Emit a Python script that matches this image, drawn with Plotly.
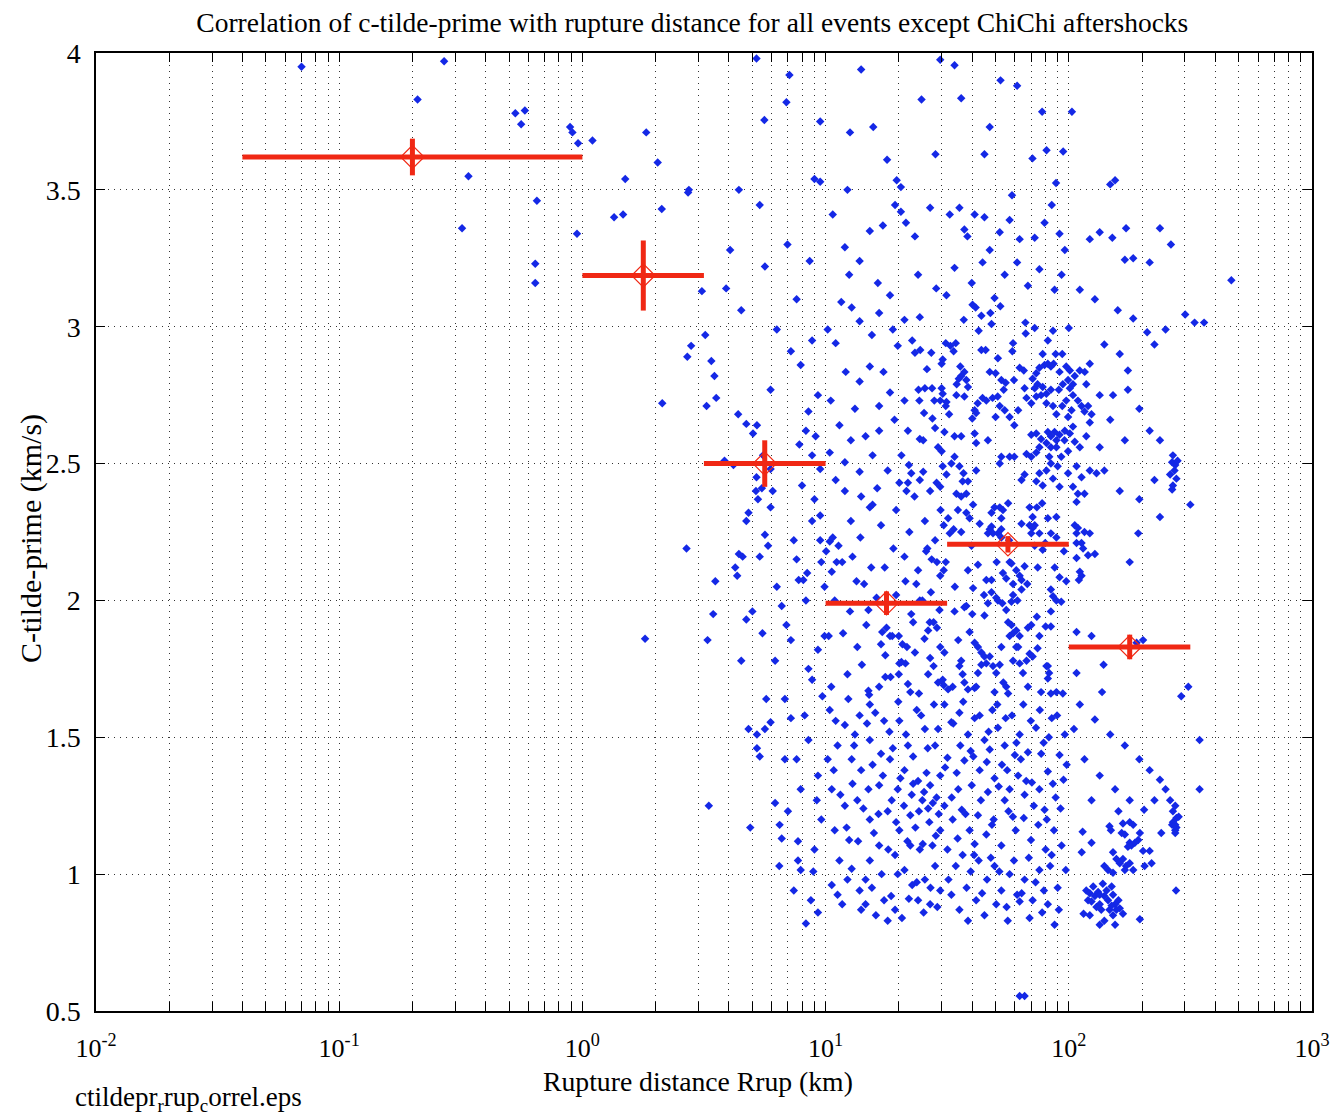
import plotly.graph_objects as go

title_text = "Correlation of c-tilde-prime with rupture distance for all events except ChiChi aftershocks"
x_label = "Rupture distance Rrup (km)"
y_label = "C-tilde-prime (km/s)"
file_note = "ctildepr<sub>r</sub>rup<sub>c</sub>orrel.eps"

x_tick_vals = [0.01, 0.1, 1, 10, 100, 1000]
x_tick_text = ["10<sup>-2</sup>", "10<sup>-1</sup>", "10<sup>0</sup>", "10<sup>1</sup>", "10<sup>2</sup>", "10<sup>3</sup>"]
x_minor_vals = [m * d for d in [0.01, 0.1, 1, 10, 100] for m in range(2, 10)]
y_tick_vals = [0.5, 1, 1.5, 2, 2.5, 3, 3.5, 4]
y_tick_text = ["0.5", "1", "1.5", "2", "2.5", "3", "3.5", "4"]

# (Rrup km, c-tilde-prime km/s)
stations_near = [(0.07,3.95),(0.27,3.97),(0.21,3.83),(0.53,3.78),(0.58,3.79),(0.56,3.74),(0.34,3.55),(0.32,3.36),(0.65,3.46),(0.64,3.23),(0.64,3.16),(0.89,3.73),(0.91,3.71),(0.96,3.67),(0.95,3.34),(1.1,3.68),(1.83,3.71),(2.04,3.6),(1.5,3.54),(2.74,3.5),(2.72,3.49),(2.12,3.43),(1.35,3.4),(1.47,3.41),(3.1,3.13),(2.7,2.89),(2.8,2.93),(2.13,2.72),(1.81,1.86),(2.68,2.19)]

stations_3_10km = [(3.2,2.97),(3.39,2.875),(3.49,2.82),(3.55,2.74),(3.24,2.71),(4.37,2.68),(4.72,2.645),(5.03,2.61),(5.22,2.64),(5.94,2.77),(3.84,2.51),(4.18,2.495),(3.45,1.95),(3.52,2.07),(3.27,1.855),(3.31,1.25),(4.33,2.09),(4.25,2.12),(4.56,2.16),(4.72,2.29),(4.82,2.32),(5.27,2.37),(5.17,2.40),(5.47,2.41),(5.94,2.34),(6.06,2.40),(5.63,2.24),(5.8,2.20),(5.36,2.16),(4.72,1.93),(4.5,1.78),(4.82,1.53),(5.22,1.51),(5.63,1.53),(5.94,1.555),(5.22,1.46),(5.36,1.43),(6.2,1.26),(6.47,1.18),(6.6,1.13),(7.7,1.05),(7.9,1.015),(6.45,1.03),(7.4,0.94),(6.6,1.98),(6.9,1.91),(7.2,1.855),(7.6,2.15),(7.75,2.075),(6.8,1.64),(7.2,1.57),(7.6,1.42),(7.9,1.31),(7.0,1.23),(5.7,1.64),(7.2,2.91),(7.9,2.86),(8.8,2.95),(9.3,2.75),(8.3,2.62),(7.8,2.57),(8.8,2.53),(9.5,2.48),(5.53,2.53),(5.94,2.48),(5.2,2.45),(5.2,3.98),(7.1,3.92),(5.6,3.755),(6.9,3.82),(9.5,3.75),(9.0,3.54),(9.5,3.53),(4.4,3.50),(5.36,3.445),(4.05,3.28),(5.63,3.22),(6.97,3.30),(8.6,3.24),(7.6,3.10),(4.5,3.06),(3.9,3.14),(6.3,2.99),(8.5,2.69),(9.0,2.37),(9.5,2.22),(8.8,2.29),(8.3,2.00),(9.3,1.82),(8.8,1.71),(8.5,1.49),(9.3,1.36),(9.6,1.20),(9.0,1.09),(8.7,0.905),(9.3,0.86),(8.3,0.82),(4.4,2.17),(5.0,1.96),(6.2,1.78),(4.9,1.17),(8.1,2.075),(8.4,2.10),(8.5,1.75),(9.5,2.31),(9.9,1.87),(9.6,2.14),
    (5.5,1.88),(6.3,2.05),(7.4,2.22),(8.2,1.58),(9.2,1.27),(6.8,1.42),(7.7,1.12),(8.9,1.01),(9.7,1.65),(9.9,2.05),(8.0,2.42),(9.1,2.60)]

stations_10_30km = [(10.4,2.215),(10.7,2.23),(11.3,2.20),(11.1,2.14),(11.7,2.14),(10.6,2.105),(10.9,2.00),(10.55,1.685),(12.3,1.73),(12.7,2.29),(13.9,2.23),(14.1,1.765),(13.4,2.07),(14.4,2.06),(15.0,1.965),(15.0,1.67),(15.1,1.655),(15.2,2.34),(15.6,2.35),(15.4,2.12),(16.6,1.685),(16.9,2.275),(17.1,1.885),(17.8,1.90),(18.4,1.87),(16.9,1.84),(17.6,1.80),(17.6,1.72),(18.5,1.72),(18.8,1.87),(19.5,2.02),(19.5,2.33),(20.0,1.87),(20.0,1.73),(20.7,1.84),(20.1,1.77),(21.3,1.77),(20.5,1.775),(21.1,2.16),(21.3,2.07),(21.8,1.695),(22.3,1.665),(21.6,1.83),(22.5,1.95),(23.3,1.81),(22.9,1.92),(24.0,2.11),(24.2,1.66),(24.4,2.00),(25.0,2.00),(25.6,2.29),(26.2,2.19),(25.9,2.18),(26.4,1.89),(26.8,1.92),(26.4,1.73),(26.9,1.79),(27.3,2.15),(27.8,1.92),(27.8,1.76),(28.7,2.14),(28.7,1.90),(29.0,1.70),(28.2,2.22),(29.4,1.965),(29.6,2.09),(29.6,1.83),(29.7,2.33),(10.05,2.18),(10.3,1.87),
    (24.4,3.035),(23.3,2.905),(24.5,2.915),(27.2,2.905),(26.1,2.845),(24.1,2.77),(25.6,2.775),(27.4,2.775),(24.3,2.73),(28.0,2.73),(25.4,2.685),(27.5,2.665),(29.6,2.73),(30.0,2.775),(30.0,2.865),(22.0,2.495),(22.5,2.465),(21.8,2.43),(21.5,2.40),(23.2,2.38),(24.4,2.44),(25.2,2.47),(26.9,2.40),(28.6,2.43),(29.6,2.415),(24.4,2.59),(25.2,2.585),(28.2,2.63),(29.0,2.56),
    (10.2,2.99),(11.0,2.94),(11.6,3.09),(12.8,3.07),(13.8,3.02),(15.5,2.97),(16.6,3.05),(18.9,2.99),(19.8,2.93),(12.1,2.835),(13.8,2.80),(15.2,2.855),(17.3,2.835),(18.4,2.76),(13.2,2.70),(11.4,2.64),(14.6,2.60),(16.6,2.62),(19.2,2.66),(10.4,2.54),(12.0,2.505),(13.8,2.47),(15.6,2.53),(18.0,2.475),(20.1,2.43),(12.0,2.40),(14.0,2.38),(16.3,2.41),(11.0,2.44),(10.5,2.73),(16.6,2.71),(12.7,2.585),(21.1,3.025),(22.7,2.95),(21.1,2.73),(21.8,2.62),(20.5,2.53),
    (10.7,3.41),(12.0,3.29),(15.2,3.35),(17.2,3.37),(19.3,3.445),(20.4,3.42),(21.4,3.38),(23.3,3.33),(26.9,3.435),(12.5,3.19),(13.8,3.24),(16.4,3.16),(18.4,3.115),(24.0,3.19),(28.5,3.14),(12.3,3.50),(12.6,3.71),(14.0,3.94),(15.7,3.73),(19.6,3.535),(20.4,3.51),(17.9,3.61),(24.8,3.83),(28.3,3.63),
    (10.4,1.60),(12.0,1.545),(11.2,1.47),(12.8,1.42),(13.8,1.58),(15.2,1.49),(15.6,1.40),(17.4,1.56),(18.9,1.46),(16.6,1.325),(19.8,1.31),(21.1,1.38),(22.9,1.33),(24.0,1.34),(25.4,1.30),(26.9,1.325),(28.6,1.28),(25.0,1.27),(26.4,1.24),(29.6,1.36),(22.3,1.215),(20.1,1.16),(18.0,1.23),(15.2,1.20),(13.5,1.27),(12.0,1.25),(10.9,1.16),(11.4,1.05),(12.3,0.98),(11.2,0.925),(11.7,0.89),(13.8,0.94),(14.6,0.89),(16.1,0.85),(17.4,0.905),(18.0,0.83),(19.3,0.87),(15.2,1.05),(16.6,1.105),(19.3,1.07),(21.1,1.015),(22.7,0.96),(24.0,0.905),(25.6,0.98),(28.2,1.03),(29.6,0.94),(26.9,0.89),(24.4,1.09),(22.3,1.105),(12.5,1.125),(14.0,1.38),(13.2,1.51),(18.4,1.42),(21.8,1.47),(25.6,1.53),(28.2,1.47),(23.7,1.60),(20.1,1.56),(15.2,1.62),(10.2,1.42),(10.6,1.31),(29.6,1.16),(27.5,1.105),(14.6,0.98),(19.8,1.00),
    (10.8,1.38),(11.5,1.29),(12.2,1.17),(12.9,1.33),(13.6,1.12),(14.3,1.24),(15.0,1.31),(15.8,1.15),(16.5,1.22),(17.2,1.36),(18.1,1.09),(18.7,1.27),(19.5,1.19),(20.3,1.35),(21.0,1.25),(21.7,1.12),(22.6,1.29),(23.4,1.17),(24.2,1.23),(25.1,1.11),(26.0,1.37),(26.7,1.19),(27.6,1.26),(28.4,1.14),(29.2,1.22),
    (11.0,1.56),(12.4,1.64),(13.1,1.47),(14.8,1.55),(16.0,1.59),(16.9,1.44),(18.3,1.52),(19.9,1.63),(21.4,1.51),(22.9,1.43),(24.7,1.58),(26.3,1.46),(27.9,1.62),(29.0,1.53),
    (10.6,0.96),(12.8,1.02),(14.0,0.87),(15.5,0.95),(17.0,1.00),(18.6,0.92),(20.6,0.84),(22.0,0.91),(23.7,0.97),(25.3,0.86),(27.0,0.95),(28.8,0.88),
    (11.8,1.88),(12.6,1.96),(13.5,1.83),(14.7,1.91),(16.2,2.01),(17.5,2.12),(19.0,2.19),(22.1,2.25),(23.6,2.06),(25.5,1.86),(27.1,2.03),(12.9,2.16)]

stations_30_100km = [(40.2,3.08),(41.4,3.07),(43.7,3.04),(47.6,3.05),(48.1,3.01),(52.3,3.075),(37.0,3.025),(42.6,2.985),(66.3,3.015),(72.4,2.995),(86.1,2.985),(100,2.995),(31.2,2.94),(32.6,2.93),(34.3,2.94),(33.6,2.91),(43.7,2.915),(45.5,2.915),(59.0,2.94),(58.6,2.91),(51.1,2.885),(66.5,2.975),(82.0,2.95),(78.1,2.90),(88.3,2.90),(94.0,2.90),(86.6,2.865),(30.3,2.88),(35.8,2.855),(37.2,2.835),(36.1,2.82),(37.9,2.805),(35.3,2.81),(47.3,2.835),(50.0,2.83),(52.8,2.805),(55.0,2.795),(54.0,2.77),(62.8,2.85),(65.3,2.84),(59.5,2.805),(71.0,2.81),(73.5,2.83),(75.7,2.85),(79.5,2.86),(82.0,2.865),(84.4,2.855),(74.4,2.79),(78.1,2.78),(72.4,2.775),(91.6,2.835),(97.6,2.855),(101,2.84),(105.8,2.82),(110.9,2.84),(116.3,2.835),(122,2.865),(118,2.79),(104,2.79),(99.3,2.805),(30.3,2.755),(31.4,2.725),(31.2,2.71),(32.2,2.68),(34.5,2.75),(37.2,2.745),(38.5,2.78),(34.6,2.79),(42.2,2.72),(44.2,2.74),(45.8,2.73),(48.6,2.74),(51.0,2.745),(41.0,2.695),(40.1,2.665),(41.6,2.685),(52.0,2.71),(54.5,2.695),(57.1,2.67),(61.9,2.695),(59.7,2.64),(50.0,2.67),(65.8,2.775),(67.0,2.74),(70.1,2.72),(73.5,2.745),(76.9,2.75),(80.9,2.755),(84.4,2.77),(91.0,2.77),(94.5,2.79),(101,2.775),(104,2.75),(80.9,2.72),(86.1,2.71),(88.9,2.68),(94.0,2.71),(97.6,2.73),(109,2.73),(112.8,2.71),(116,2.69),(120,2.71),(124,2.68),(122,2.65),(102.6,2.695),(99.3,2.67),(104,2.635),(96.3,2.62),(91.6,2.605),(87.4,2.615),(84.4,2.60),(82.0,2.615),(88.9,2.585),(80.9,2.575),(76.9,2.59),(73.5,2.61),(70.1,2.605),(75.7,2.56),(84.4,2.56),(88.9,2.56),(96.0,2.585),(101,2.61),(105.8,2.58),(118,2.60),(111,2.56),(99.3,2.545),(93.1,2.525),(83.1,2.525),(30.3,2.49),(31.4,2.46),(32.9,2.50),(35.5,2.49),(36.9,2.465),(36.6,2.435),(38.5,2.435),(37.9,2.39),(34.5,2.39),(36.1,2.38),(30.0,2.545),(33.9,2.525),(30.8,2.615),(41.6,2.575),(41.0,2.61),(36.1,2.60),(33.9,2.60),(41.6,2.475),(46.5,2.585),(52.8,2.525),(57.1,2.525),(59.7,2.525),(52.0,2.50),(63.9,2.44),(65.8,2.46),(67.0,2.535),(70.1,2.525),(73.5,2.54),(75.7,2.465),(73.5,2.435),(78.1,2.42),(80.9,2.475),(86.1,2.445),(84.4,2.50),(90.0,2.49),(91.6,2.415),(99.3,2.465),(107.6,2.49),(112.8,2.45),(104,2.415),(109,2.39),(122,2.475),(130,2.465),(134,2.56),(116,2.39),
    (30.6,2.275),(31.9,2.30),(35.0,2.33),(37.9,2.32),(39.1,2.30),(40.4,2.35),(43.0,2.28),(48.1,2.32),(49.5,2.34),(52.0,2.34),(53.6,2.33),(56.3,2.355),(52.8,2.30),(63.9,2.28),(69.0,2.34),(71.0,2.305),(73.9,2.34),(77.7,2.355),(72.4,2.275),(82.0,2.30),(88.9,2.305),(107.6,2.36),(32.4,2.245),(33.6,2.26),(36.1,2.25),(30.6,2.11),(31.2,2.14),(38.5,2.11),(40.4,2.045),(42.3,2.13),(45.8,2.075),(48.1,2.075),(46.5,2.245),(47.3,2.26),(48.1,2.27),(48.8,2.245),(51.1,2.245),(52.8,2.26),(52.8,2.23),(57.1,2.14),(58.1,2.135),(60.8,2.11),(62.8,2.09),(63.9,2.075),(65.8,2.125),(63.9,2.04),(59.0,2.06),(53.6,2.10),(55.3,2.08),(69.0,2.275),(71.0,2.265),(70.1,2.245),(75.7,2.245),(72.4,2.20),(78.1,2.185),(84.4,2.245),(88.9,2.23),(91.6,2.085),(97.6,2.07),(105.8,2.275),(107.6,2.245),(109,2.265),(116,2.25),(122,2.245),(107.6,2.21),(112.8,2.21),(114.5,2.19),(107.6,2.155),(120,2.165),(111,2.105),(112.8,2.09),(110,2.075),(128,2.17),(178,2.14),(193,2.245),(237,2.305),
    (30.8,1.81),(33.9,1.96),(35.1,1.855),(36.1,1.78),(37.2,1.975),(37.9,1.98),(39.1,1.885),(40.1,1.95),(41.0,1.845),(42.3,1.83),(43.7,1.81),(45.0,1.945),(46.5,1.99),(48.1,2.03),(50.3,2.01),(51.1,2.00),(53.3,1.99),(55.3,1.965),(58.1,1.995),(59.0,2.02),(56.3,1.92),(58.1,1.91),(59.0,1.88),(57.1,1.87),(60.8,1.89),(62.8,1.87),(61.9,1.83),(67.9,1.90),(70.1,1.91),(73.9,1.94),(75.7,1.87),(80.3,1.905),(84.4,2.04),(86.1,2.015),(88.9,2.00),(93.1,1.995),(84.4,1.96),(84.4,1.905),(80.9,1.76),(83.0,1.735),(82.0,1.715),(107.6,1.885),(124,1.87),(139,1.765),(202,1.855),(190,1.845),
    (30.3,1.71),(30.6,1.69),(31.9,1.675),(33.3,1.685),(35.5,1.76),(36.6,1.73),(37.2,1.70),(38.5,1.675),(41.0,1.68),(41.6,1.685),(42.3,1.735),(43.7,1.765),(45.0,1.795),(45.8,1.77),(47.3,1.795),(48.8,1.76),(50.3,1.735),(52.0,1.765),(52.8,1.83),(53.8,1.70),(55.3,1.685),(56.3,1.66),(49.5,1.665),(59.0,1.78),(60.8,1.83),(62.8,1.77),(64.8,1.735),(67.0,1.78),(67.9,1.685),(69.0,1.805),(71.0,1.795),(74.4,1.825),(76.9,1.665),(82.0,1.76),(84.4,1.66),(88.9,1.665),(94.5,1.66),(107.6,1.735),(137,1.665),(290,1.65),(310,1.685),
    (32.4,3.41),(35.5,3.435),(38.3,3.33),(41.0,3.41),(45.0,3.40),(47.3,3.28),(52.0,3.345),(57.1,3.39),(62.8,3.32),(72.4,3.325),(79.5,3.38),(91.6,3.34),(96.3,3.28),(33.9,3.215),(39.9,3.16),(44.2,3.235),(54.5,3.19),(61.3,3.235),(67.9,3.15),(75.7,3.21),(87.4,3.135),(93.4,3.19),(31.4,3.115),(49.5,3.105),(36.1,3.835),(47.3,3.73),(33.9,3.955),(52.4,3.90),(61.3,3.88),(77.7,3.785),(70.9,3.615),(81.0,3.645),(88.6,3.525),(37.2,3.355),(45.0,3.63),(58.4,3.48),(85.1,3.445),(94.8,3.64),(29.6,3.975),
    (30.8,1.62),(32.9,1.555),(35.5,1.59),(38.5,1.51),(41.0,1.57),(45.0,1.49),(48.5,1.60),(51.1,1.535),(54.5,1.47),(58.4,1.58),(62.8,1.51),(67.9,1.445),(73.3,1.535),(78.8,1.48),(85.1,1.57),(91.6,1.435),(96.3,1.51),(31.7,1.425),(34.6,1.37),(37.2,1.415),(39.9,1.325),(43.0,1.38),(46.5,1.30),(49.5,1.35),(53.1,1.40),(57.1,1.31),(61.9,1.36),(65.8,1.29),(70.5,1.335),(75.7,1.31),(82.0,1.375),(88.3,1.28),(95.1,1.345),(30.8,1.25),(33.3,1.20),(36.3,1.235),(39.1,1.16),(42.3,1.215),(45.8,1.145),(49.1,1.20),(52.8,1.105),(56.5,1.23),(60.5,1.16),(65.3,1.205),(69.9,1.125),(74.9,1.18),(80.3,1.09),(86.9,1.16),(93.4,1.105),(31.7,1.09),(34.3,1.03),(36.6,1.07),(39.5,1.01),(42.6,1.05),(46.1,0.98),(49.5,1.03),(52.8,0.94),(57.1,1.00),(61.3,0.925),(65.8,0.98),(71.0,0.905),(75.7,1.015),(82.0,0.89),(90.0,0.95),(97.2,1.015),(32.9,0.925),(35.5,0.87),(38.5,0.83),(41.6,0.905),(45.0,0.85),(50.3,0.89),(56.1,0.83),(62.8,0.90),(69.0,0.84),(77.7,0.86),(87.4,0.815),(62.8,0.555),(65.8,0.555),(35.1,1.31),(54.5,1.27),(79.5,1.235),(47.3,1.455),(60.0,1.435),(41.0,1.11),(83.8,1.03),
    (31.0,1.39),(33.0,1.28),(35.8,1.47),(37.6,1.22),(40.5,1.43),(43.5,1.27),(46.0,1.41),(48.3,1.18),(51.5,1.32),(55.8,1.38),(58.9,1.21),(63.5,1.42),(66.8,1.34),(71.8,1.25),(77.0,1.44),(81.2,1.20),(86.0,1.33),(92.5,1.24),(98.0,1.40),
    (32.0,0.98),(34.9,1.13),(38.0,0.95),(40.8,1.07),(44.0,0.93),(47.8,1.06),(51.8,1.01),(55.5,0.88),(59.5,1.05),(64.0,0.93),(68.5,1.06),(73.0,0.97),(79.0,0.94),(85.0,1.07),(91.0,0.87),
    (33.5,1.55),(36.8,1.63),(39.5,1.45),(43.0,1.58),(46.8,1.52),(50.8,1.62),(55.0,1.57),(60.9,1.48),(65.0,1.62),(69.8,1.56),(76.0,1.60),(82.8,1.50),(89.5,1.58),
    (34.0,2.05),(39.8,2.20),(44.8,2.02),(50.5,2.14),(56.8,2.22),(61.5,2.00),(67.5,2.06),(74.5,2.12),(80.0,2.21),(87.5,2.12),(95.5,2.18)]

stations_beyond_100km = [(103,3.785),(148,3.52),(155,3.535),(172,3.36),(122,3.32),(134,3.345),(151,3.325),(170,3.245),(184,3.25),(215,3.235),(263,3.30),(237,3.36),(301,3.045),(329,3.015),(360,3.015),(466,3.17),(111,3.135),(128,3.10),(159,3.06),(184,3.03),(210,2.98),(225,2.935),(250,2.99),(140,2.935),(162,2.90),(175,2.84),(134,2.75),(152,2.75),(175,2.77),(148,2.66),(170,2.585),(195,2.70),(215,2.62),(237,2.585),(268,2.53),(266,2.505),(272,2.475),(277,2.445),(268,2.42),(274,2.495),(266,2.405),(261,2.46),(280,2.51),(225,2.44),(195,2.37),(140,2.475),(162,2.40),(316,2.35),
    (111,1.62),(128,1.565),(148,1.51),(170,1.47),(195,1.42),(215,1.38),(237,1.345),(250,1.31),(261,1.27),(274,1.25),(268,1.23),(277,1.205),(266,1.18),(274,1.16),(283,1.21),(105,1.53),(116,1.42),(134,1.36),(155,1.31),(178,1.27),(204,1.235),(225,1.27),(160,1.23),(124,1.27),(345,1.49),(345,1.31),
    (114,1.155),(124,1.115),(147,1.175),(149,1.16),(167,1.185),(178,1.19),(184,1.18),(165,1.15),(170,1.145),(178,1.115),(175,1.10),(181,1.105),(187,1.115),(193,1.125),(196,1.15),(202,1.085),(215,1.085),(219,1.04),(205,1.03),(240,1.15),(268,1.19),(274,1.18),(277,1.17),(274,1.15),(152,1.08),(157,1.055),(162,1.04),(167,1.055),(172,1.03),(178,1.04),(170,1.015),(184,1.015),(140,1.03),(145,1.015),(152,1.005),(113,1.08),
    (118,0.94),(122,0.93),(126,0.955),(128,0.92),(120,0.905),(132,0.935),(134,0.89),(138,0.965),(136,0.87),(143,0.94),(145,0.905),(150,0.955),(152,0.925),(155,0.89),(147,0.87),(157,0.87),(162,0.875),(160,0.905),(152,0.85),(140,0.83),(115,0.855),(196,0.835),(276,0.94),(130,0.88),(124,0.90),(167,0.855),(150,0.885),(140,0.92),(134,0.925),(122,0.85),(134,0.815),(155,0.815)]

# binned means (red): bin edges, centres, mean value and its error
bin_lo = [0.04, 1.0, 3.16, 10.0, 31.6, 100.0]
bin_hi = [1.0, 3.16, 10.0, 31.6, 100.0, 316.0]
bin_center = [0.2, 1.78, 5.62, 17.8, 56.2, 178.0]
bin_mean = [3.62, 3.187, 2.50, 1.99, 2.205, 1.83]
bin_err = [0.067, 0.128, 0.085, 0.043, 0.03, 0.045]

all_stations = stations_near + stations_3_10km + stations_10_30km + stations_30_100km + stations_beyond_100km
rrup = [p[0] for p in all_stations]
ctp = [p[1] for p in all_stations]

fig = go.Figure()
fig.add_trace(go.Scatter(
    x=rrup, y=ctp, mode="markers",
    marker=dict(symbol="diamond", size=6.5, color="#1428e6", line=dict(width=0)),
    hoverinfo="skip", showlegend=False))

fig.add_trace(go.Scatter(
    x=bin_center, y=bin_mean, mode="markers",
    marker=dict(symbol="diamond-open", size=18, color="#f02814", line=dict(width=1.2, color="#f02814")),
    error_x=dict(type="data", symmetric=False,
                 array=[h - c for h, c in zip(bin_hi, bin_center)],
                 arrayminus=[c - l for c, l in zip(bin_center, bin_lo)],
                 color="#f02814", thickness=5, width=0),
    error_y=dict(type="data", array=bin_err, color="#f02814", thickness=5, width=0),
    hoverinfo="skip", showlegend=False))

grid_dash = "1px,5px"
font_family = "Liberation Serif, Times New Roman, serif"

fig.update_layout(
    width=1334, height=1120,
    margin=dict(l=96, r=22, t=53, b=109, autoexpand=False),
    paper_bgcolor="white", plot_bgcolor="white",
    font=dict(family=font_family, size=27, color="black"),
    showlegend=False,
    title=dict(text=title_text, x=0.519, xanchor="center", xref="container",
               y=1 - 22 / 1120, yanchor="middle", yref="container",
               font=dict(family=font_family, size=27.5, color="black")),
)

fig.update_xaxes(
    type="log", range=[-2, 3], tickmode="array", tickvals=x_tick_vals, ticktext=x_tick_text,
    ticks="inside", ticklen=9, tickwidth=1, tickcolor="black",
    showline=True, linecolor="black", linewidth=1.5, mirror="ticks",
    showgrid=True, gridcolor="rgba(0,0,0,0.8)", gridwidth=1, griddash=grid_dash,
    zeroline=False, ticklabelstandoff=13, automargin=False,
    tickfont=dict(family=font_family, size=26, color="black"),
    minor=dict(tickmode="array", tickvals=x_minor_vals, ticks="inside", ticklen=9, tickwidth=1,
               tickcolor="black", showgrid=True, gridcolor="rgba(0,0,0,0.8)", gridwidth=1,
               griddash=grid_dash),
)
fig.update_yaxes(
    range=[0.5, 4], tickmode="array", tickvals=y_tick_vals, ticktext=y_tick_text,
    ticks="inside", ticklen=9, tickwidth=1, tickcolor="black",
    showline=True, linecolor="black", linewidth=1.5, mirror="ticks",
    showgrid=True, gridcolor="rgba(0,0,0,0.8)", gridwidth=1, griddash=grid_dash,
    zeroline=False, ticklabelstandoff=8, automargin=False,
    tickfont=dict(family=font_family, size=28, color="black"),
)

fig.add_annotation(text=x_label, xref="paper", yref="paper", x=0.495, y=-0.074,
                   xanchor="center", yanchor="middle", showarrow=False,
                   font=dict(family=font_family, size=27.7, color="black"))
fig.add_annotation(text=y_label, xref="paper", yref="paper", x=-0.054, y=0.493,
                   xanchor="center", yanchor="middle", textangle=-90, showarrow=False,
                   font=dict(family=font_family, size=30, color="black"))
fig.add_annotation(text=file_note, xref="paper", yref="paper", x=-0.019, y=-0.092,
                   xanchor="left", yanchor="middle", showarrow=False,
                   font=dict(family=font_family, size=27, color="black"))

fig.write_html("out.html", config={"displayModeBar": False},
               post_script="document.body.style.margin='0px';document.body.style.overflow='hidden';")
